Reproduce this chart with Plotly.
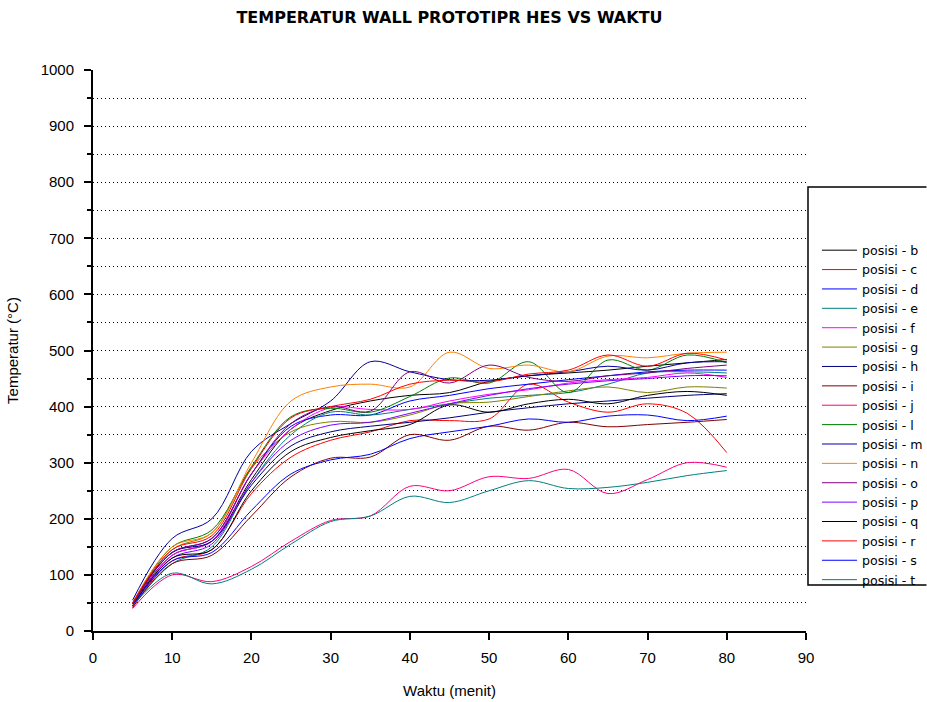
import plotly.graph_objects as go

minutes = [5, 10, 15, 20, 25, 30, 35, 40, 45, 50, 55, 60, 65, 70, 75, 80]

posisi_b = [48, 135, 160, 270, 360, 393, 410, 420, 425, 445, 455, 460, 465, 472, 478, 484]
posisi_c = [42, 125, 145, 245, 310, 340, 355, 375, 375, 378, 440, 408, 390, 405, 388, 318]
posisi_d = [50, 140, 165, 280, 365, 385, 385, 410, 420, 432, 440, 448, 455, 462, 465, 465]
posisi_e = [45, 120, 150, 265, 350, 390, 385, 395, 405, 415, 420, 425, 440, 460, 462, 460]
posisi_f = [45, 135, 160, 280, 360, 398, 395, 395, 410, 422, 430, 442, 448, 452, 460, 452]
posisi_g = [48, 145, 175, 290, 355, 373, 372, 385, 405, 408, 418, 428, 435, 425, 435, 433]
posisi_h = [50, 140, 160, 260, 330, 355, 365, 372, 380, 390, 398, 405, 410, 415, 420, 423]
posisi_i = [42, 120, 135, 205, 275, 308, 310, 350, 340, 365, 358, 372, 364, 368, 372, 377]
posisi_j = [40, 100, 88, 115, 160, 197, 205, 258, 250, 275, 272, 288, 245, 270, 300, 292]
posisi_l = [50, 150, 180, 293, 382, 397, 390, 418, 451, 442, 480, 425, 483, 465, 492, 478]
posisi_m = [55, 165, 200, 320, 370, 410, 480, 462, 448, 447, 455, 462, 472, 465, 478, 480]
posisi_n = [50, 150, 175, 300, 410, 435, 440, 435, 497, 468, 474, 462, 490, 487, 495, 497]
posisi_o = [48, 140, 165, 280, 370, 400, 392, 462, 442, 474, 452, 445, 455, 460, 468, 474]
posisi_p = [45, 130, 155, 265, 340, 367, 372, 388, 405, 420, 432, 440, 446, 450, 455, 455]
posisi_q = [45, 130, 145, 250, 320, 345, 357, 368, 403, 390, 405, 413, 405, 420, 427, 420]
posisi_r = [50, 145, 170, 290, 380, 400, 413, 440, 447, 444, 458, 465, 492, 472, 495, 483]
posisi_s = [45, 125, 140, 215, 280, 305, 315, 343, 355, 365, 378, 372, 383, 385, 375, 383]
posisi_t = [45, 103, 84, 110, 155, 195, 205, 240, 229, 250, 268, 254, 256, 265, 277, 286]

series_names = ["posisi - b", "posisi - c", "posisi - d", "posisi - e", "posisi - f",
                "posisi - g", "posisi - h", "posisi - i", "posisi - j", "posisi - l",
                "posisi - m", "posisi - n", "posisi - o", "posisi - p", "posisi - q",
                "posisi - r", "posisi - s", "posisi - t"]
series_values = [posisi_b, posisi_c, posisi_d, posisi_e, posisi_f, posisi_g, posisi_h,
                 posisi_i, posisi_j, posisi_l, posisi_m, posisi_n, posisi_o, posisi_p,
                 posisi_q, posisi_r, posisi_s, posisi_t]
series_colors = ["#000000", "#FF0000", "#0000FF", "#008080", "#FF00FF", "#808000",
                 "#000080", "#800000", "#FF0080", "#008000", "#0000A0", "#FF8000",
                 "#800080", "#8000FF", "#000000", "#FF0000", "#0000FF", "#008080"]

x_ticks = [0, 10, 20, 30, 40, 50, 60, 70, 80, 90]
y_ticks = [0, 100, 200, 300, 400, 500, 600, 700, 800, 900, 1000]
grid_vals = [50, 100, 150, 200, 250, 300, 350, 400, 450, 500,
             550, 600, 650, 700, 750, 800, 850, 900, 950]

FONT = "Arial, Liberation Sans, sans-serif"

fig = go.Figure()
for name, vals, col in zip(series_names, series_values, series_colors):
    fig.add_trace(go.Scatter(x=minutes, y=vals, name=name, mode="lines",
                             line=dict(color=col, width=1, shape="spline", smoothing=1.0)))

# helper axis carrying the dotted horizontal grid
fig.add_trace(go.Scatter(x=[None], y=[None], yaxis="y2", showlegend=False, hoverinfo="skip"))

# legend frame (open on the right, running off the page edge)
box_x0, box_x1, box_y0, box_y1 = 1.0028, 1.169, 0.082, 0.7914
box_path = f"M {box_x1},{box_y1} L {box_x0},{box_y1} L {box_x0},{box_y0} L {box_x1},{box_y0}"

fig.update_layout(
    width=927, height=702,
    paper_bgcolor="white", plot_bgcolor="white",
    margin=dict(l=93, r=121, t=70, b=71, autoexpand=False),
    title=dict(text="<b>TEMPERATUR WALL PROTOTIPR HES VS WAKTU</b>",
               x=0.5, xref="paper", y=0.9758, yanchor="middle",
               font=dict(family="DejaVu Sans, sans-serif", size=16, color="black")),
    xaxis=dict(range=[0, 90], tickvals=x_ticks, showgrid=False, zeroline=False,
               showline=True, linecolor="black", linewidth=2,
               ticks="outside", ticklen=7, tickwidth=2, tickcolor="black",
               ticklabelstandoff=5,
               tickfont=dict(family=FONT, size=15, color="black"),
               title=dict(text="Waktu (menit)", font=dict(family=FONT, size=15, color="black"), standoff=20)),
    yaxis=dict(range=[0, 1000], tickvals=y_ticks, showgrid=False, zeroline=False,
               showline=True, linecolor="black", linewidth=2,
               ticks="outside", ticklen=7, tickwidth=2, tickcolor="black",
               ticklabelstandoff=7,
               minor=dict(dtick=50, ticks="outside", ticklen=4, tickwidth=2, tickcolor="black", showgrid=False),
               tickfont=dict(family=FONT, size=15, color="black"),
               title=dict(text="Temperatur (°C)", font=dict(family=FONT, size=15, color="black"), standoff=18)),
    yaxis2=dict(range=[0, 1000], overlaying="y", tickvals=grid_vals, showgrid=True,
                griddash="1px,3px", gridcolor="#000000", gridwidth=1,
                showticklabels=False, ticks="", showline=False, zeroline=False),
    legend=dict(x=1.0154, y=0.705, xanchor="left", yanchor="top",
                bgcolor="rgba(0,0,0,0)", borderwidth=0,
                font=dict(family="DejaVu Sans, sans-serif", size=12.6, color="black"),
                itemwidth=35, tracegroupgap=0),
    shapes=[dict(type="path", xref="paper", yref="paper", path=box_path,
                 line=dict(color="black", width=1.5), fillcolor="rgba(0,0,0,0)")],
    showlegend=True,
)

fig.write_html("out.html", config={"displayModeBar": False},
               post_script="document.body.style.margin='0';document.body.style.overflow='hidden';")
